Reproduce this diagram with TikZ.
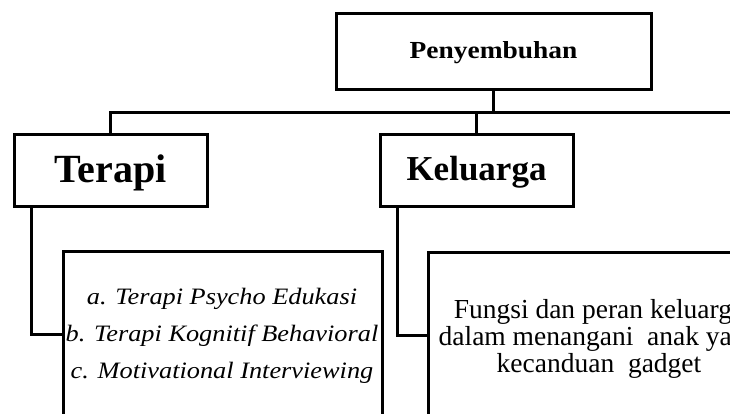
\documentclass[tikz,border=0pt]{standalone}
\usepackage{fontspec}
\setmainfont{Liberation Serif}
\newfontfamily\widefont[FakeStretch=1.12]{Liberation Serif}
\begin{document}
\begin{tikzpicture}[x=1pt,y=-1pt,
  box/.style={draw=black, line width=3pt, inner sep=0pt},
  conn/.style={draw=black, line width=3pt}]
\useasboundingbox (0,0) rectangle (730,414);
\clip (0,0) rectangle (730,414);
% boxes
\node[box, minimum width=315pt, minimum height=76pt, text height=19.4pt, text depth=5.4pt,
      font=\widefont\bfseries\fontsize{24.5}{29}\selectfont] (pen) at (493.5,52) {Penyembuhan};
\node[box, minimum width=193pt, minimum height=71pt, text height=33.5pt, text depth=9pt,
      font=\bfseries\fontsize{40}{46}\selectfont] (terapi) at (110.5,170.5) {Terapi};
\node[box, minimum width=193pt, minimum height=71pt, text height=28.7pt, text depth=7.7pt,
      font=\bfseries\fontsize{35}{40}\selectfont] (kel) at (476.5,170.5) {Keluarga};
\node[box, minimum width=319pt, minimum height=189pt] (list) at (222.5,345.5) {};
\node[box, minimum width=342pt, minimum height=188pt] (fam) at (599,346) {};
% texts
\node[align=center, inner sep=0pt,
      font=\widefont\itshape\fontsize{23.5}{37}\selectfont] (listtxt) at (222,336)
  {a. Terapi Psycho Edukasi\\ b. Terapi Kognitif Behavioral\\ c. Motivational Interviewing};
\node[align=center, inner sep=0pt,
      font=\fontsize{27.5}{27}\selectfont] (famtxt) at (599,338.5)
  {Fungsi dan peran keluarga\\ dalam menangani\ \ anak yang\\ kecanduan\ \ gadget};
% connectors
\coordinate (busL) at (110.5,113);
\coordinate (busR) at (740,113);
\draw[conn] (terapi.north) -- (busL) -- (busR);
\draw[conn] (pen.south) -- (pen.south |- busL);
\draw[conn] (kel.north) -- (kel.north |- busL);
\draw[conn] ([xshift=19pt]terapi.south west) |- ([yshift=11.5pt]list.west);
\draw[conn] ([xshift=19pt]kel.south west) |- ([yshift=11pt]fam.west);
\end{tikzpicture}
\end{document}
